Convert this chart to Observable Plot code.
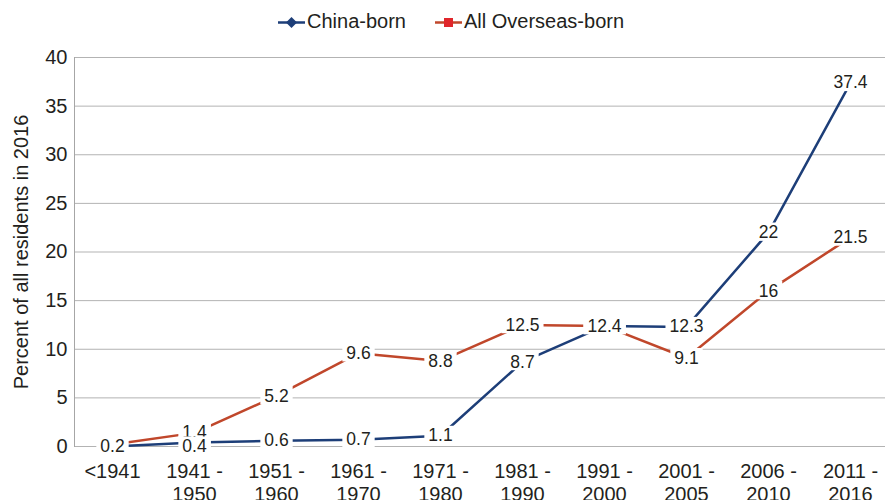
<!DOCTYPE html>
<html>
<head>
<meta charset="utf-8">
<script src="https://cdn.jsdelivr.net/npm/d3@7"></script>
<script src="https://cdn.jsdelivr.net/npm/@observablehq/plot@0.6"></script>
<style>
  body { margin: 0; background: #fff; }
  #wrap { width: 885px; font-family: "Liberation Sans", Arial, sans-serif; }
  #wrap svg { display: block; }
  #legend text { font-family: "Liberation Sans", Arial, sans-serif; font-size: 20px; fill: #231f20; }
</style>
</head>
<body>
<div id="wrap">
  <svg id="legend" width="885" height="36"></svg>
  <div id="chart"></div>
</div>
<script>
const categories = ["<1941", "1941 - 1950", "1951 - 1960", "1961 - 1970", "1971 - 1980", "1981 - 1990", "1991 - 2000", "2001 - 2005", "2006 - 2010", "2011 - 2016"];
const xLabels = ["<1941", "1941 -\n1950", "1951 -\n1960", "1961 -\n1970", "1971 -\n1980", "1981 -\n1990", "1991 -\n2000", "2001 -\n2005", "2006 -\n2010", "2011 -\n2016"];
const seriesNames = ["China-born", "All Overseas-born"];
const chinaBorn = [0, 0.4, 0.6, 0.7, 1.1, 8.7, 12.4, 12.3, 22, 37.4];
const overseasBorn = [0.2, 1.4, 5.2, 9.6, 8.8, 12.5, 12.4, 9.1, 16, 21.5];
// China-born label at <1941 is hidden behind the 0.2 label in the reference
const chinaLabels = ["", "0.4", "0.6", "0.7", "1.1", "8.7", "12.4", "12.3", "22", "37.4"];
const overseasLabels = ["0.2", "1.4", "5.2", "9.6", "8.8", "12.5", "12.4", "9.1", "16", "21.5"];
const yTicks = [0, 5, 10, 15, 20, 25, 30, 35, 40];
const colors = ["#1d3e78", "#c0472b"];
const legendMarkerColors = ["#1d3e78", "#e0262b"];

const data = [];
// overseas first so China-born labels are drawn on top
[[overseasBorn, overseasLabels, 1], [chinaBorn, chinaLabels, 0]].forEach(([vals, labs, s]) => {
  vals.forEach((v, i) => data.push({series: seriesNames[s], category: categories[i], value: v, label: labs[i]}));
});
// like the spreadsheet, labels of values very close to zero sit on the baseline (kept inside the plot)
const labelY = d => (d.value < 0.5 ? 0 : d.value);

// Legend
const lg = d3.select("#legend");
const items = [
  {x0: 278, x1: 305, tx: 307, shape: "diamond"},
  {x0: 435, x1: 462, tx: 464, shape: "square"}
];
items.forEach((it, s) => {
  const cy = 22.5;
  lg.append("line").attr("x1", it.x0).attr("x2", it.x1).attr("y1", cy).attr("y2", cy)
    .attr("stroke", colors[s]).attr("stroke-width", 2.5);
  const cx = (it.x0 + it.x1) / 2;
  if (it.shape === "diamond") {
    lg.append("path").attr("d", `M${cx},${cy - 5.5}L${cx + 5.5},${cy}L${cx},${cy + 5.5}L${cx - 5.5},${cy}Z`)
      .attr("fill", legendMarkerColors[s]);
  } else {
    lg.append("rect").attr("x", cx - 4.5).attr("y", cy - 4.5).attr("width", 9).attr("height", 9)
      .attr("fill", legendMarkerColors[s]);
  }
  lg.append("text").attr("x", it.tx).attr("y", 27.5).text(seriesNames[s]);
});

const labelFontSize = 17.5;
const chart = Plot.plot({
  width: 885,
  height: 464,
  marginTop: 21,
  marginBottom: 54,
  marginLeft: 74,
  marginRight: 0,
  style: {fontFamily: "Liberation Sans, Arial, sans-serif", color: "#231f20", background: "#fff"},
  x: {type: "point", domain: categories, range: [70.6, 891.7], padding: 0.5, axis: null},
  y: {domain: [0, 40], axis: null},
  color: {domain: seriesNames, range: colors},
  marks: [
    Plot.ruleY(yTicks, {stroke: "#b3b3b3", strokeWidth: 1}),
    Plot.frame({anchor: "left", stroke: "#a6a6a6", strokeWidth: 1}),
    Plot.axisY(yTicks, {tickSize: 0, tickPadding: 7, fontSize: 20, fill: "#231f20",
      label: "Percent of all residents in 2016", labelAnchor: "center", labelArrow: "none", labelOffset: 61}),
    Plot.text(categories, {x: d => d, frameAnchor: "bottom", text: (d, i) => xLabels[i],
      lineAnchor: "top", dy: 15, lineHeight: 1.15, fontSize: 20, fill: "#231f20"}),
    Plot.line(data, {x: "category", y: "value", z: "series", stroke: "series", strokeWidth: 2.5}),
    Plot.text(data.filter(d => d.label !== ""), {x: "category", y: labelY, text: "label",
      fontSize: labelFontSize, fill: "#231f20"})
  ]
});
document.getElementById("chart").appendChild(chart);

// white label boxes (as in the spreadsheet chart), sized from each rendered label
const svgRoot = chart.tagName.toLowerCase() === "svg" ? chart : chart.querySelector("svg");
const markGroups = Array.from(svgRoot.children).filter(e => e.tagName.toLowerCase() === "g");
const labelGroup = markGroups[markGroups.length - 1];
const em = labelFontSize;
Array.from(labelGroup.querySelectorAll("text")).forEach(t => {
  const b = t.getBBox();
  const glyphTop = b.y + b.height * (0.905 - 0.716) / 1.117; // top of digits
  const baseline = b.y + b.height * 0.905 / 1.117;
  const r = document.createElementNS("http://www.w3.org/2000/svg", "rect");
  r.setAttribute("x", b.x - 4);
  r.setAttribute("width", b.width + 8);
  r.setAttribute("y", glyphTop - 3);
  r.setAttribute("height", baseline - glyphTop + 5.5);
  r.setAttribute("fill", "#ffffff");
  r.setAttribute("stroke", "none");
  if (t.getAttribute("transform")) r.setAttribute("transform", t.getAttribute("transform"));
  t.parentNode.insertBefore(r, t);
});
</script>
</body>
</html>
